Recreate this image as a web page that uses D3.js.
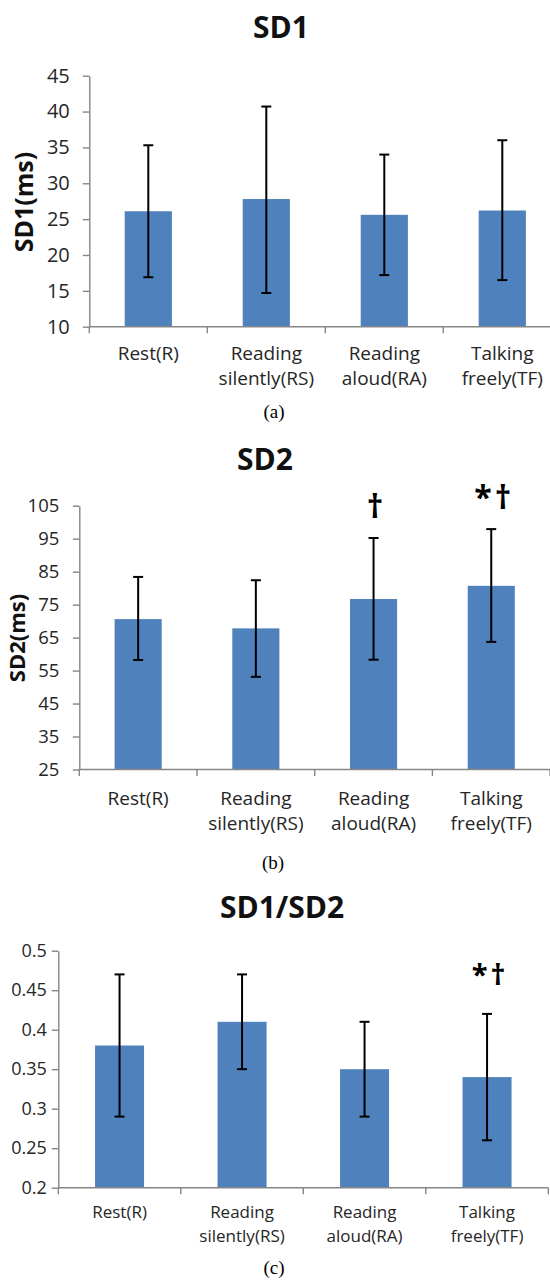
<!DOCTYPE html>
<html>
<head>
<meta charset="utf-8">
<script src="https://cdn.jsdelivr.net/npm/d3@7"></script>
<style>
  html, body { margin: 0; padding: 0; background: #fff; }
  svg { display: block; }
</style>
</head>
<body>
<svg id="chart"></svg>
<script>
// categories and values
const categoryLines = [["Rest(R)"], ["Reading", "silently(RS)"], ["Reading", "aloud(RA)"], ["Talking", "freely(TF)"]];
const categories = categoryLines.map(l => l.join(" "));

const sd1Mean = [26.1, 27.8, 25.6, 26.2];
const sd1Upper = [35.3, 40.7, 34.0, 36.0];
const sd1Lower = [16.9, 14.7, 17.2, 16.5];
const sd1Ticks = [10, 15, 20, 25, 30, 35, 40, 45];

const sd2Mean = [70.6, 67.8, 76.7, 80.7];
const sd2Upper = [83.4, 82.4, 95.2, 97.9];
const sd2Lower = [58.2, 53.1, 58.3, 63.7];
const sd2Ticks = [25, 35, 45, 55, 65, 75, 85, 95, 105];
const sd2Marks = ["", "", "\u2020", "*\u2020"];

const ratioMean = [0.38, 0.41, 0.35, 0.34];
const ratioUpper = [0.47, 0.47, 0.41, 0.42];
const ratioLower = [0.29, 0.35, 0.29, 0.26];
const ratioTicks = [0.2, 0.25, 0.3, 0.35, 0.4, 0.45, 0.5];
const ratioMarks = ["", "", "", "*\u2020"];

const width = 550, height = 1280;
const sans = "'Open Sans', 'Noto Sans', sans-serif";
const barColor = "#4f81bd";
const axisColor = "#868686";
const textColor = "#262626";

const svg = d3.select("#chart").attr("width", width).attr("height", height);

const panels = [
    {
        title: "SD1", titleX: 281, titleY: 38,
        yLabel: "SD1(ms)", yLabelX: 33, yLabelY: 202, yLabelFont: 25,
        mean: sd1Mean, upper: sd1Upper, lower: sd1Lower, ticks: sd1Ticks, marks: null,
        x0: 89.3, step: 118, yTop: 75.7, yBottom: 326.7,
        tickFont: 20, tickPad: 13, catFont: 19, catY: [360, 385],
        caption: "(a)", capX: 274, capY: 418
    },
    {
        title: "SD2", titleX: 265, titleY: 470,
        yLabel: "SD2(ms)", yLabelX: 25, yLabelY: 638, yLabelFont: 22,
        mean: sd2Mean, upper: sd2Upper, lower: sd2Lower, ticks: sd2Ticks,
        marks: sd2Marks, markFont: 32, markGap: 20,
        x0: 79.3, step: 117.7, yTop: 505.7, yBottom: 769.5,
        tickFont: 18.5, tickPad: 13.5, catFont: 19, catY: [805, 830],
        caption: "(b)", capX: 273, capY: 869
    },
    {
        title: "SD1/SD2", titleX: 282, titleY: 918,
        yLabel: null,
        mean: ratioMean, upper: ratioUpper, lower: ratioLower, ticks: ratioTicks,
        marks: ratioMarks, markFont: 29, markGap: 29,
        x0: 58.3, step: 122.5, yTop: 950.7, yBottom: 1187.7,
        tickFont: 18, tickPad: 5, catFont: 17, catY: [1218, 1242],
        caption: "(c)", capX: 274, capY: 1274
    }
];

panels.forEach(p => {
    const g = svg.append("g");
    const x = d3.scaleBand(categories, [p.x0, p.x0 + p.step * categories.length])
        .paddingInner(0.6).paddingOuter(0.3);
    const y = d3.scaleLinear([d3.min(p.ticks), d3.max(p.ticks)], [p.yBottom, p.yTop]);
    const base = d3.min(p.ticks);
    const rows = categories.map((c, i) => ({ c, i, mean: p.mean[i], upper: p.upper[i], lower: p.lower[i] }));

    // title
    g.append("text")
        .attr("x", p.titleX).attr("y", p.titleY)
        .attr("text-anchor", "middle")
        .attr("font-family", sans).attr("font-weight", 700).attr("font-size", 30)
        .attr("fill", "#111")
        .text(p.title);

    // y label
    if (p.yLabel) {
        g.append("text")
            .attr("transform", `translate(${p.yLabelX},${p.yLabelY}) rotate(-90)`)
            .attr("text-anchor", "middle")
            .attr("font-family", sans).attr("font-weight", 700).attr("font-size", p.yLabelFont)
            .attr("fill", "#111")
            .text(p.yLabel);
    }

    // bars
    g.append("g").selectAll("rect")
        .data(rows)
        .join("rect")
        .attr("x", d => x(d.c))
        .attr("width", x.bandwidth())
        .attr("y", d => y(d.mean))
        .attr("height", d => y(base) - y(d.mean))
        .attr("fill", barColor);

    // y axis
    const yAxis = g.append("g")
        .attr("transform", `translate(${p.x0},0)`)
        .call(d3.axisLeft(y).tickValues(p.ticks).tickSize(6.5).tickSizeOuter(0)
            .tickPadding(p.tickPad).tickFormat(d => String(+d.toFixed(2))));
    yAxis.select(".domain").attr("stroke", axisColor).attr("stroke-width", 1.4);
    yAxis.selectAll(".tick line").attr("stroke", axisColor).attr("stroke-width", 1.4);
    yAxis.selectAll(".tick text")
        .attr("font-family", sans).attr("font-size", p.tickFont).attr("fill", textColor);

    // x axis line and boundary ticks
    const xEnd = p.x0 + x.step() * categories.length;
    g.append("line")
        .attr("x1", p.x0).attr("x2", xEnd)
        .attr("y1", y(base)).attr("y2", y(base))
        .attr("stroke", axisColor).attr("stroke-width", 1.4);
    g.append("g").selectAll("line")
        .data(d3.range(categories.length + 1))
        .join("line")
        .attr("x1", i => p.x0 + i * x.step()).attr("x2", i => p.x0 + i * x.step())
        .attr("y1", y(base)).attr("y2", y(base) + 6.5)
        .attr("stroke", axisColor).attr("stroke-width", 1.4);

    // category labels
    g.append("g").selectAll("text")
        .data(rows)
        .join("text")
        .attr("text-anchor", "middle")
        .attr("font-family", sans).attr("font-size", p.catFont).attr("fill", textColor)
        .each(function(d) {
            const t = d3.select(this);
            categoryLines[d.i].forEach((line, k) => {
                t.append("tspan")
                    .attr("x", x(d.c) + x.bandwidth() / 2)
                    .attr("y", p.catY[k])
                    .text(line);
            });
        });

    // error bars
    const eb = g.append("g").attr("stroke", "#000").attr("stroke-width", 2).attr("fill", "none");
    const cx = d => x(d.c) + x.bandwidth() / 2;
    eb.selectAll(".stem").data(rows).join("line").attr("class", "stem")
        .attr("x1", cx).attr("x2", cx)
        .attr("y1", d => y(d.upper)).attr("y2", d => y(d.lower));
    eb.selectAll(".capTop").data(rows).join("line").attr("class", "capTop")
        .attr("x1", d => cx(d) - 5).attr("x2", d => cx(d) + 5)
        .attr("y1", d => y(d.upper)).attr("y2", d => y(d.upper));
    eb.selectAll(".capBot").data(rows).join("line").attr("class", "capBot")
        .attr("x1", d => cx(d) - 5).attr("x2", d => cx(d) + 5)
        .attr("y1", d => y(d.lower)).attr("y2", d => y(d.lower));

    // significance marks
    if (p.marks) {
        g.append("g").selectAll("text")
            .data(rows.filter(d => p.marks[d.i]))
            .join("text")
            .attr("x", d => cx(d) + 3)
            .attr("y", d => y(d.upper) - p.markGap)
            .attr("text-anchor", "middle")
            .attr("font-family", sans).attr("font-weight", 700)
            .attr("letter-spacing", 3)
            .attr("font-size", p.markFont).attr("fill", "#000")
            .text(d => p.marks[d.i]);
    }

    // caption
    g.append("text")
        .attr("x", p.capX).attr("y", p.capY)
        .attr("text-anchor", "middle")
        .attr("font-family", "'Liberation Serif', 'Times New Roman', serif").attr("font-size", 19)
        .attr("fill", "#000")
        .text(p.caption);
});
</script>
</body>
</html>
